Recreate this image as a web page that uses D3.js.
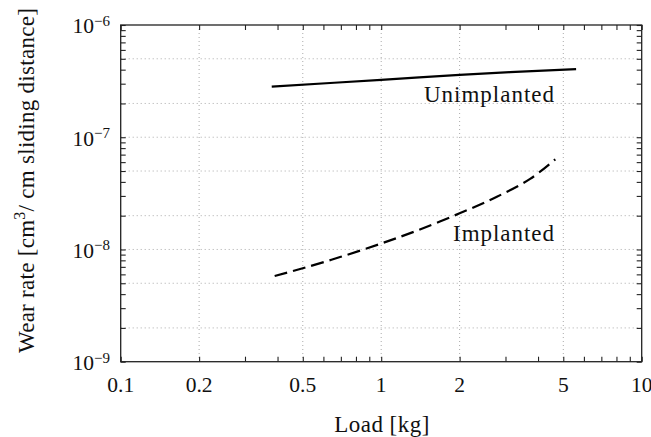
<!DOCTYPE html>
<html><head><meta charset="utf-8">
<script src="https://cdn.jsdelivr.net/npm/d3@7"></script>
<style>body{margin:0;background:#fff}svg{display:block}</style>
</head><body><svg id="c" width="651" height="437"></svg>
<script>
// data
const unimplantedLoad = [0.38, 1, 2, 5.6];
const unimplantedRate = [2.82e-7, 3.25e-7, 3.6e-7, 4.05e-7];
const implantedLoad = [0.39, 0.5, 0.7, 1, 1.37, 2, 2.78, 3.73, 4.66];
const implantedRate = [5.8e-9, 6.8e-9, 8.6e-9, 1.13e-8, 1.47e-8, 2.1e-8, 2.95e-8, 4.25e-8, 6.36e-8];
const xTicks = [0.1, 0.2, 0.5, 1, 2, 5, 10];
const xTickLabels = ["0.1", "0.2", "0.5", "1", "2", "5", "10"];
const yTicks = [1e-9, 1e-8, 1e-7, 1e-6];
const yTickExps = ["−9", "−8", "−7", "−6"];
const gridX = [0.2, 0.5, 1, 2, 5];
const gridY = [2e-9, 5e-9, 1e-8, 2e-8, 5e-8, 1e-7, 2e-7, 5e-7];

const W = 651, H = 437;
const m = {left: 120.7, top: 25, right: 9.3, bottom: 75.3};
const svg = d3.select("#c");
const x = d3.scaleLog().domain([0.1, 10]).range([m.left, W - m.right]);
const y = d3.scaleLog().domain([1e-9, 1e-6]).range([H - m.bottom, m.top]);
const font = "'Liberation Serif', serif";

// grid
const g = svg.append("g");
g.selectAll(".gx").data(gridX).join("line")
  .attr("x1", d => x(d)).attr("x2", d => x(d))
  .attr("y1", y.range()[1]).attr("y2", y.range()[0])
  .attr("stroke", "#aaa").attr("stroke-dasharray", "1,3");
g.selectAll(".gy").data(gridY).join("line")
  .attr("y1", d => y(d)).attr("y2", d => y(d))
  .attr("x1", x.range()[0]).attr("x2", x.range()[1])
  .attr("stroke", "#aaa").attr("stroke-dasharray", "1,3");

// minor + major ticks via axes (inside)
const xMinor = x.ticks();
const yMinor = y.ticks();
const tl = 5;
const axB = d3.axisBottom(x).tickValues(xMinor).tickSize(-tl).tickFormat("");
const axT = d3.axisTop(x).tickValues(xMinor).tickSize(-tl).tickFormat("");
const axL = d3.axisLeft(y).tickValues(yMinor).tickSize(-tl).tickFormat("");
const axR = d3.axisRight(y).tickValues(yMinor).tickSize(-tl).tickFormat("");
function style(sel){ sel.select(".domain").remove(); sel.selectAll("line").attr("stroke","#222").attr("stroke-width",1.1); }
svg.append("g").attr("transform",`translate(0,${y.range()[0]})`).call(axB).call(style);
svg.append("g").attr("transform",`translate(0,${y.range()[1]})`).call(axT).call(style);
svg.append("g").attr("transform",`translate(${x.range()[0]},0)`).call(axL).call(style);
svg.append("g").attr("transform",`translate(${x.range()[1]},0)`).call(axR).call(style);

// frame
svg.append("rect").attr("x", x.range()[0]).attr("y", y.range()[1])
  .attr("width", x.range()[1]-x.range()[0]).attr("height", y.range()[0]-y.range()[1])
  .attr("fill","none").attr("stroke","#222").attr("stroke-width",1.3);

// tick labels
svg.selectAll(".xl").data(xTicks).join("text")
  .attr("x", d => x(d)).attr("y", 391.7).attr("text-anchor","middle")
  .attr("font-family", font).attr("font-size", 21.5).attr("fill","#111")
  .text((d,i) => xTickLabels[i]);
const yl = svg.selectAll(".yl").data(yTicks).join("text")
  .attr("x", 110).attr("y", d => y(d) + 8.3).attr("text-anchor","end")
  .attr("font-family", font).attr("font-size", 21.5).attr("fill","#111");
yl.append("tspan").text("10");
yl.append("tspan").attr("dy", -7.5).attr("font-size", 15).text((d,i) => yTickExps[i]);

// series
const lineGen = d3.line().x(d => x(d[0])).y(d => y(d[1])).curve(d3.curveCatmullRom.alpha(0.5));
svg.append("path").datum(d3.zip(unimplantedLoad, unimplantedRate))
  .attr("d", lineGen).attr("fill","none").attr("stroke","#000").attr("stroke-width",2.2);
svg.append("path").datum(d3.zip(implantedLoad, implantedRate))
  .attr("d", lineGen).attr("fill","none").attr("stroke","#000").attr("stroke-width",2.2)
  .attr("stroke-dasharray","13,6");

function fit(sel, target){
  const w = sel.node().getComputedTextLength();
  const n = sel.text().length;
  if (n > 1) sel.attr("letter-spacing", ((target - w) / (n - 1)).toFixed(2));
}

// annotations
const t1 = svg.append("text").attr("x", 424).attr("y", 101.5)
  .attr("font-family", font).attr("font-size", 23).attr("fill","#111").text("Unimplanted");
fit(t1, 130);
const t2 = svg.append("text").attr("x", 453).attr("y", 240.7)
  .attr("font-family", font).attr("font-size", 23).attr("fill","#111").text("Implanted");
fit(t2, 101);

// axis titles
const xt = svg.append("text").attr("x", 334.3).attr("y", 431.5)
  .attr("font-family", font).attr("font-size", 23).attr("fill","#111").text("Load [kg]");
fit(xt, 95);

const ytG = svg.append("g").attr("transform", "translate(34,353) rotate(-90)");
const yt = ytG.append("text").attr("x", 0).attr("y", 0)
  .attr("font-family", font).attr("font-size", 23).attr("fill","#111");
yt.append("tspan").text("Wear rate [cm");
yt.append("tspan").attr("dy", -9).attr("font-size", 16).text("3");
yt.append("tspan").attr("dy", 9).text("/ cm sliding distance]");
{
  const w = yt.node().getComputedTextLength();
  const n = "Wear rate [cm3/ cm sliding distance]".length;
  yt.attr("letter-spacing", ((345 - w) / (n - 1)).toFixed(2));
}
</script></body></html>
